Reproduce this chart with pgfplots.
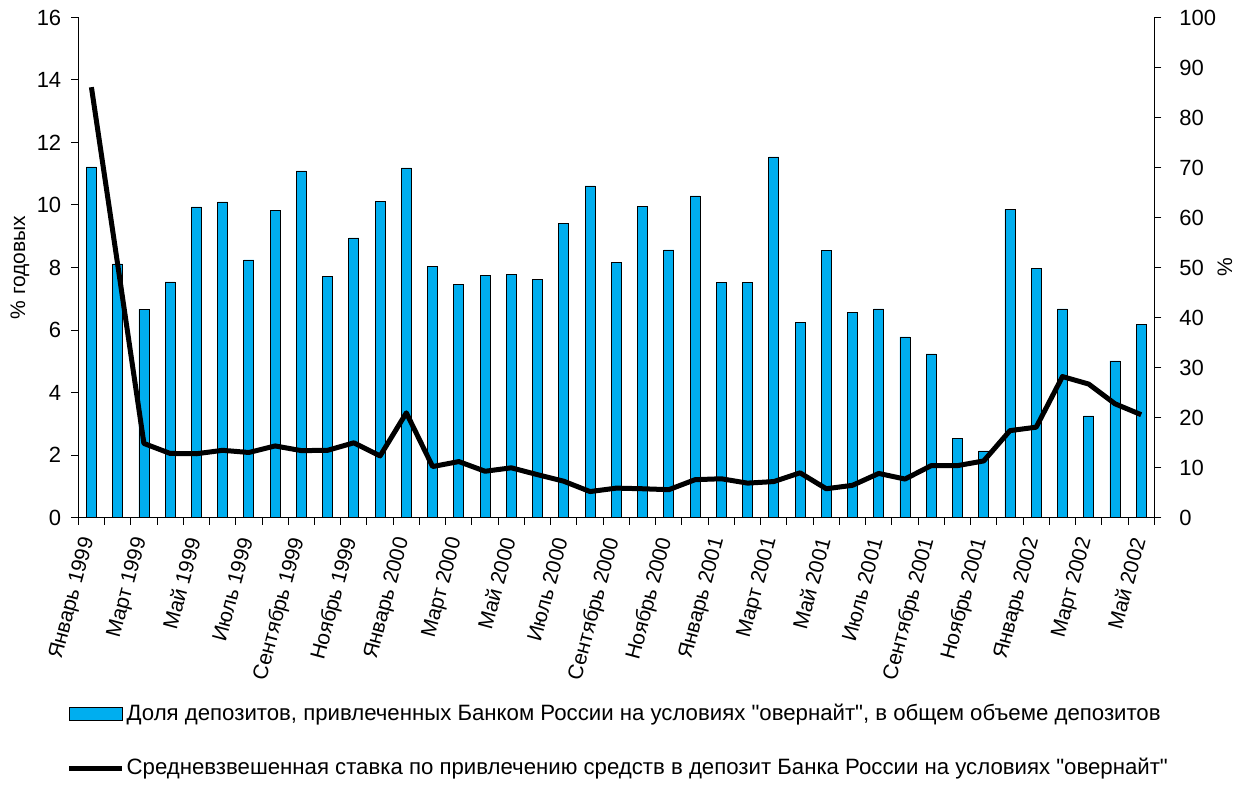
\documentclass[border=0pt]{standalone}
\usepackage{pgfplots}
\pgfplotsset{compat=1.18}
\usepackage{fontspec}
\setmainfont{Liberation Sans}[Ligatures=TeXOff]
\definecolor{barcol}{RGB}{0,174,239}

\begin{document}
\begin{tikzpicture}[x=1pt,y=1pt]
\useasboundingbox (-39.15,-134.75) rectangle (584.85,258.75);
% доля депозитов, правая ось (%)
\begin{axis}[
  width=538pt, height=250pt, scale only axis,
  xmin=0.5, xmax=41.5, ymin=0, ymax=100,
  axis x line*=bottom, axis y line*=right,
  axis line style={-, line width=0.5pt},
  ytick={0,10,...,100},
  yticklabel style={font=\fontsize{11}{13}\selectfont, xshift=5.5pt},
  xtick={0.5,1.5,...,41.5}, xticklabels={},
  extra x ticks={1,3,...,41},
  extra x tick labels={Январь 1999,Март 1999,Май 1999,Июль 1999,Сентябрь 1999,Ноябрь 1999,
    Январь 2000,Март 2000,Май 2000,Июль 2000,Сентябрь 2000,Ноябрь 2000,
    Январь 2001,Март 2001,Май 2001,Июль 2001,Сентябрь 2001,Ноябрь 2001,
    Январь 2002,Март 2002,Май 2002},
  extra x tick style={major tick length=0pt,
    tick label style={yshift=-7pt, xshift=-0.5pt, rotate=75, anchor=east,
      font=\fontsize{10.5}{12}\selectfont}},
  tick align=outside, major tick length=3.5pt,
  tick style={line width=0.5pt, black},
  /pgf/number format/assume math mode=true,
  ylabel={\%},
  ylabel style={at={(axis description cs:1.0657,0.5)}, anchor=center,
    font=\fontsize{10.5}{12}\selectfont},
]
\addplot[ybar, bar width=5pt, fill=barcol, draw=black, line width=0.4pt] coordinates {
(1,70.1) (2,50.7) (3,41.6) (4,47.1) (5,62.1) (6,63.1) (7,51.5) (8,61.4)
(9,69.3) (10,48.2) (11,55.9) (12,63.2) (13,69.9) (14,50.2) (15,46.6) (16,48.4)
(17,48.6) (18,47.6) (19,58.8) (20,66.3) (21,51.0) (22,62.2) (23,53.5) (24,64.3)
(25,47.0) (26,47.0) (27,72.1) (28,39.0) (29,53.4) (30,41.0) (31,41.7) (32,36.1)
(33,32.7) (34,15.8) (35,13.3) (36,61.6) (37,49.8) (38,41.7) (39,20.3) (40,31.3)
(41,38.6)
};
\end{axis}
% ставка, левая ось (% годовых)
\begin{axis}[
  width=538pt, height=250pt, scale only axis,
  xmin=0.5, xmax=41.5, ymin=0, ymax=16,
  axis x line=none, axis y line*=left,
  axis line style={-, line width=0.5pt},
  ytick={0,2,...,16},
  yticklabel style={font=\fontsize{11}{13}\selectfont, xshift=-1.5pt},
  tick align=outside, major tick length=3.5pt,
  tick style={line width=0.5pt, black},
  /pgf/number format/assume math mode=true,
  ylabel={\% годовых},
  ylabel style={at={(axis description cs:-0.0542,0.5)}, anchor=center,
    font=\fontsize{10.5}{12}\selectfont},
  legend style={at={(axis description cs:-0.0112,-0.368)}, anchor=north west,
    draw=none, fill=none, inner sep=0pt, row sep=15.5pt,
    nodes={inner sep=1pt}, font=\fontsize{11.1}{13}\selectfont},
  legend cell align=left,
]
\addlegendimage{legend image code/.code={
  \draw[fill=barcol, draw=black, line width=0.5pt] (0pt,-3.3pt) rectangle (26.5pt,3.3pt);}}
\addlegendentry{Доля депозитов, привлеченных Банком России на условиях "овернайт", в общем объеме депозитов}
\addplot[black, line width=2.5pt, line join=round,
  legend image code/.code={\draw[black, line width=2.5pt] (0pt,0pt) -- (26.5pt,0pt);}]
coordinates {
(1,13.77) (2,8.1) (3,2.37) (4,2.05) (5,2.04) (6,2.15) (7,2.08) (8,2.29)
(9,2.14) (10,2.15) (11,2.39) (12,1.97) (13,3.35) (14,1.63) (15,1.79) (16,1.48)
(17,1.59) (18,1.37) (19,1.16) (20,0.83) (21,0.94) (22,0.92) (23,0.89) (24,1.21)
(25,1.24) (26,1.10) (27,1.15) (28,1.43) (29,0.92) (30,1.03) (31,1.41) (32,1.23)
(33,1.66) (34,1.66) (35,1.81) (36,2.78) (37,2.89) (38,4.51) (39,4.27) (40,3.64)
(41,3.29)
};
\addlegendentry{Средневзвешенная ставка по привлечению средств в депозит Банка России  на условиях "овернайт"}
\end{axis}
\end{tikzpicture}
\end{document}
